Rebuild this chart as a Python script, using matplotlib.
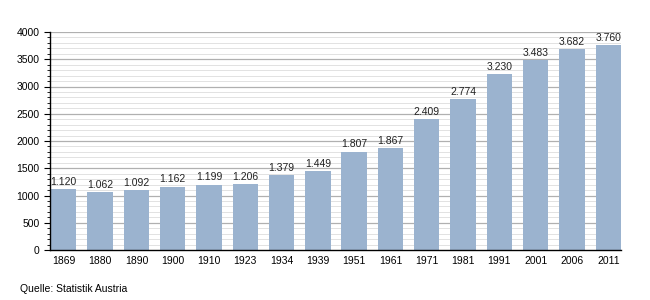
import numpy as np
import matplotlib.pyplot as plt

years = ['1869', '1880', '1890', '1900', '1910', '1923', '1934', '1939',
         '1951', '1961', '1971', '1981', '1991', '2001', '2006', '2011']
population = [1120, 1062, 1092, 1162, 1199, 1206, 1379, 1449,
              1807, 1867, 2409, 2774, 3230, 3483, 3682, 3760]

plt.rcParams['font.family'] = ['Liberation Sans', 'DejaVu Sans']

fig = plt.figure(figsize=(6.5, 3), dpi=100)
ax = fig.add_axes([50/650, 50/300, 571/650, 218/300])

x = np.arange(len(years))

# grid lines: light every 100, darker every 500
for v in range(100, 4001, 100):
    if v % 500 == 0:
        ax.axhline(v, color='#b0b0b0', lw=0.9, zorder=0)
    else:
        ax.axhline(v, color='#e2e2e2', lw=0.7, zorder=0)

ax.bar(x, population, width=0.7, color='#9bb3cf', zorder=2)

for xi, v in zip(x, population):
    label = '{:,}'.format(v).replace(',', '.')
    ax.text(xi, v + 40, label, ha='center', va='bottom', fontsize=7.5, color='#222222')

ax.set_xlim(-0.38, 15.35)
ax.set_ylim(0, 4000)
ax.set_xticks(x)
ax.set_xticklabels(years, fontsize=7.5)
ax.set_yticks(range(0, 4001, 500))
ax.set_yticks(range(0, 4001, 100), minor=True)
ax.tick_params(axis='y', labelsize=7.5, length=4, width=0.8)
ax.tick_params(axis='y', which='minor', length=2, width=0.6)
ax.tick_params(axis='x', length=0, pad=4)

for s in ['top', 'right']:
    ax.spines[s].set_visible(False)
ax.spines['left'].set_linewidth(1)
ax.spines['bottom'].set_linewidth(1)

fig.text(20/650, 1 - 289/300, 'Quelle: Statistik Austria', fontsize=7.5, va='center')

plt.savefig('out.png', dpi=100)
